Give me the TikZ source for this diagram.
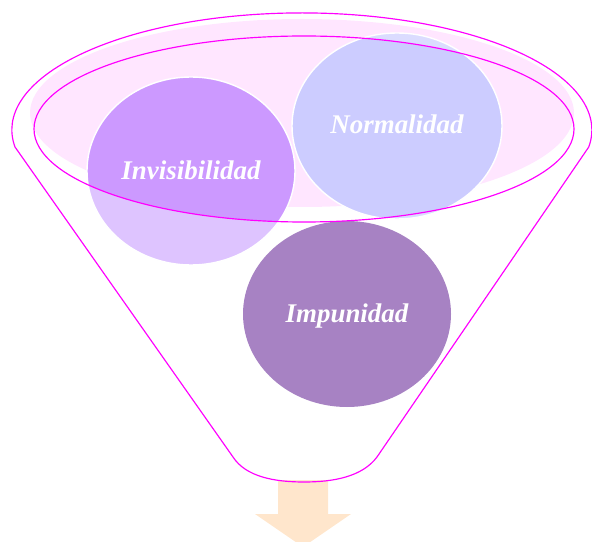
\documentclass[tikz,border=0pt]{standalone}
\usepackage{fontspec}
\setmainfont{Liberation Serif}
\definecolor{funnelpink}{HTML}{FF00FF}
\definecolor{mouthfill}{HTML}{FFE6FF}
\definecolor{invdark}{HTML}{CC99FF}
\definecolor{invlight}{HTML}{DEC4FF}
\definecolor{normdark}{HTML}{CCCCFF}
\definecolor{normlight}{HTML}{DBDCFF}
\definecolor{impmain}{HTML}{A782C3}
\definecolor{impdark}{HTML}{7F52A8}
\definecolor{arrowfill}{HTML}{FFE6CC}
\begin{document}
\begin{tikzpicture}[x=0.03cm, y=-0.03cm, line cap=round, line join=round,
    funnel/.style={draw=funnelpink, line width=1pt},
    bubble/.style={draw=white, line width=1.2pt},
    bubbletext/.style={text=white, anchor=base, font=\fontsize{23}{27}\selectfont\bfseries\itshape}]
  \useasboundingbox (0,0) rectangle (592,542);
  \begin{scope}
    \clip (0,0) rectangle (592,542);
    \fill[arrowfill] (278,480) -- (328,480) -- (328,514) -- (351,514) -- (303,547) -- (255,514) -- (278,514) -- cycle;
  \end{scope}
  \fill[mouthfill] (302,113) ellipse[x radius=272, y radius=94];
  \coordinate (inv) at (191,171);
  \coordinate (norm) at (397,126);
  \coordinate (imp) at (347,314);
  \coordinate (mouth) at (304,129);
  \fill[invlight] (inv) ellipse[x radius=104, y radius=94];
  \fill[normlight] (norm) ellipse[x radius=105, y radius=93];
  \fill[impmain] (imp) ellipse[x radius=104, y radius=93];
  \begin{scope}
    \clip (mouth) ellipse[x radius=270, y radius=93];
    \fill[invdark] (inv) ellipse[x radius=104, y radius=94];
    \fill[normdark] (norm) ellipse[x radius=105, y radius=93];
    \fill[impdark] (imp) ellipse[x radius=104, y radius=93];
  \end{scope}
  \draw[bubble] (inv) ellipse[x radius=104, y radius=94];
  \draw[bubble] (norm) ellipse[x radius=105, y radius=93];
  \node[bubbletext] (invlabel) at (191,180) {Invisibilidad};
  \node[bubbletext] (normlabel) at (397,134) {Normalidad};
  \node[bubbletext] (implabel) at (347,322) {Impunidad};
  \draw[funnel] (mouth) ellipse[x radius=270, y radius=93];
  \draw[funnel] (15,147) arc[start angle=171.6, end angle=368.4, x radius=290, y radius=117]
    -- (377,457) .. controls (362,477) and (333,482) .. (304,482)
    .. controls (275,482) and (246,477) .. (233,457) -- cycle;
\end{tikzpicture}
\end{document}
